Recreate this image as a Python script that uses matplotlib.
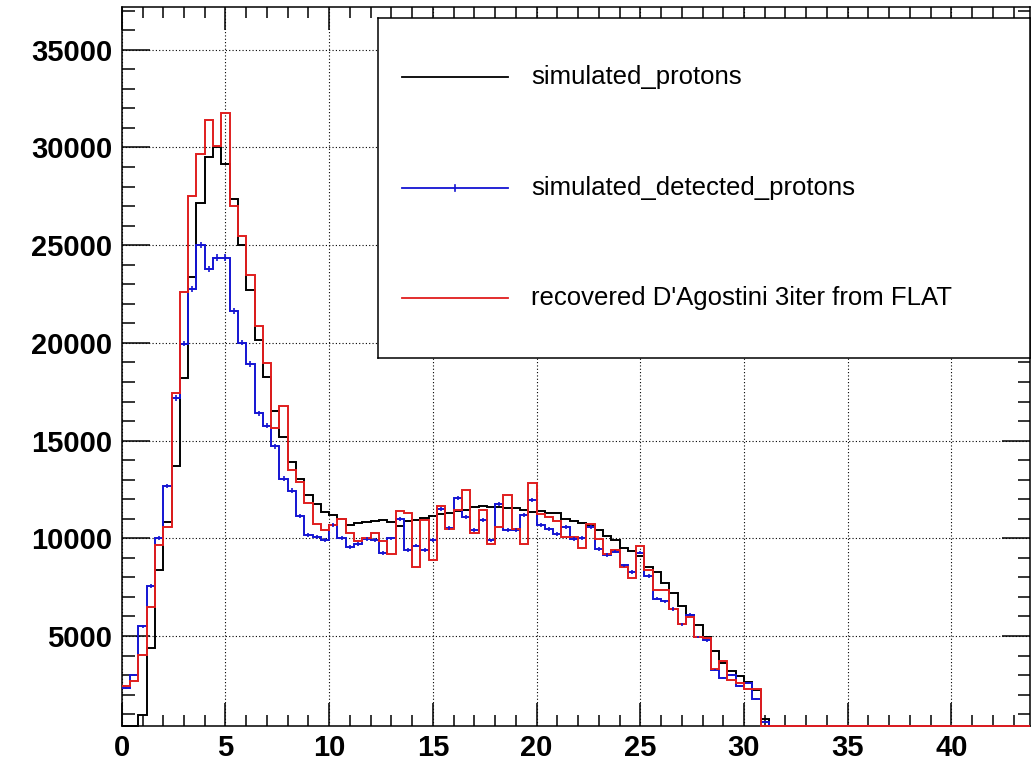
import numpy as np
import matplotlib
matplotlib.use('Agg')
import matplotlib.pyplot as plt
from matplotlib.ticker import MultipleLocator

W, H = 1033, 761
BIN_W = 0.4
N_BINS = 110
XMAX = 43.8
YMIN, YMAX = 394, 37175

# bin contents, 0.4 wide bins starting at 0
sim_protons = [0, 0, 950, 4370, 8370, 10850, 13700, 18200, 23350, 27180,
               29520, 30030, 29180, 27350, 25020, 22710, 20150, 18280, 16540, 15170,
               13890, 13040, 12220, 11760, 11370, 11200, 10970, 10680, 10770, 10820,
               10900, 10940, 10850, 10650, 10890, 10940, 11020, 11140, 11230, 11310,
               11420, 11450, 11590, 11660, 11590, 11590, 11570, 11570, 11450, 11370,
               11420, 11310, 11280, 11000, 10900, 10800, 10700, 10430, 10120, 9890,
               9500, 9360, 9080, 8550, 8250, 7730, 7220, 6560, 6080, 5540,
               4950, 4250, 3600, 3200, 2950, 2650, 2240, 740]
det_protons = [2330, 3020, 5500, 7560, 10000, 12680, 17180, 19960, 22750, 25020,
               23800, 24370, 24370, 21620, 20010, 18920, 16400, 15760, 14700, 13050,
               12440, 11120, 10170, 10090, 9900, 10680, 10000, 9550, 9700, 9980,
               9900, 9230, 9990, 11000, 9400, 9630, 9420, 9910, 11500, 10510,
               12080, 11100, 10400, 10920, 9890, 11770, 10430, 10430, 11200, 11960,
               10700, 10470, 10240, 10560, 9950, 10000, 10600, 9460, 9150, 9320,
               8610, 8270, 9270, 8080, 6900, 6780, 6380, 5600, 6080, 4950,
               4770, 3260, 2830, 3000, 2440, 2610, 1760, 600]
rec_flat = [2440, 2710, 4030, 6500, 9680, 10600, 17450, 22610, 27530, 29690,
            31420, 30090, 31760, 27010, 25480, 23500, 20890, 18960, 15630, 16770,
            13500, 12870, 11790, 10730, 10430, 10680, 10970, 10290, 9860, 10000,
            10290, 9880, 9200, 11400, 11310, 8550, 10940, 8890, 11650, 10460,
            11450, 12470, 10260, 11450, 9710, 10560, 12220, 10460, 9710, 12850,
            11250, 11100, 10900, 10090, 10050, 9500, 10730, 9950, 9200, 9400,
            8520, 7990, 9610, 8380, 7340, 7340, 6380, 5590, 5980, 4950,
            4900, 3300, 3700, 2750, 2600, 2300, 2270, 0]

labels = ['simulated_protons', 'simulated_detected_protons',
          "recovered D'Agostini 3iter from FLAT"]
c_black, c_blue, c_red = '#000000', '#1414d2', '#e01e1e'


def padded(v):
    return np.array(list(v) + [0] * (N_BINS - len(v)), dtype=float)


# last edge stops at the frame so unclipped lines stay inside
edges = np.append(np.arange(N_BINS) * BIN_W, XMAX)
centers = np.arange(N_BINS) * BIN_W + BIN_W / 2

plt.rcParams['font.family'] = ['Liberation Sans', 'DejaVu Sans']
fig = plt.figure(figsize=(W / 100, H / 100), dpi=100)
ax = fig.add_axes([121.8 / W, 1 - 726 / H, (1030.2 - 121.8) / W, (726 - 7.3) / H])

# empty bins are drawn on the frame, as ROOT does
for vals, col in [(sim_protons, c_black), (det_protons, c_blue), (rec_flat, c_red)]:
    v = np.clip(padded(vals), YMIN, None)
    ax.stairs(v, edges, baseline=None, color=col, lw=1.4, zorder=3, clip_on=False)

d = np.array(det_protons, dtype=float)
ok = d > 0
ax.errorbar(centers[:len(d)][ok], d[ok], yerr=np.sqrt(d[ok]), fmt='none',
            ecolor=c_blue, elinewidth=1.2, zorder=3)

ax.set_xlim(0, XMAX)
ax.set_ylim(YMIN, YMAX)
ax.xaxis.set_major_locator(MultipleLocator(5))
ax.xaxis.set_minor_locator(MultipleLocator(1))
ax.yaxis.set_major_locator(MultipleLocator(5000))
ax.yaxis.set_minor_locator(MultipleLocator(1000))
ax.tick_params(which='both', direction='in', top=True, right=True, width=1.1)
ax.xaxis.set_tick_params(which='major', length=16.5, pad=6)
ax.xaxis.set_tick_params(which='minor', length=8)
ax.yaxis.set_tick_params(which='major', length=20.5, pad=7)
ax.yaxis.set_tick_params(which='minor', length=9)
for lab in ax.get_xticklabels() + ax.get_yticklabels():
    lab.set_fontsize(21)
    lab.set_fontweight('bold')
for s in ax.spines.values():
    s.set_linewidth(1.1)
ax.grid(True, which='major', color='black', linestyle=(0, (1, 2)), lw=0.8, zorder=1)

# legend box
lx0, lx1, ly0, ly1 = 378, 1030, 18, 358
lax = fig.add_axes([lx0 / W, 1 - ly1 / H, (lx1 - lx0) / W, (ly1 - ly0) / H])
lax.set_xlim(lx0, lx1)
lax.set_ylim(ly1, ly0)
lax.set_xticks([])
lax.set_yticks([])
for s in lax.spines.values():
    s.set_linewidth(1.1)
for yy, col, txt in zip([77, 188, 298], [c_black, c_blue, c_red], labels):
    lax.plot([402, 508], [yy, yy], color=col, lw=1.3)
    if col == c_blue:
        lax.plot([455, 455], [yy - 3, yy + 3], color=col, lw=1.2)
    lax.text(531, yy, txt, fontsize=18.5, va='center', ha='left')

fig.savefig('out.png', dpi=100)
